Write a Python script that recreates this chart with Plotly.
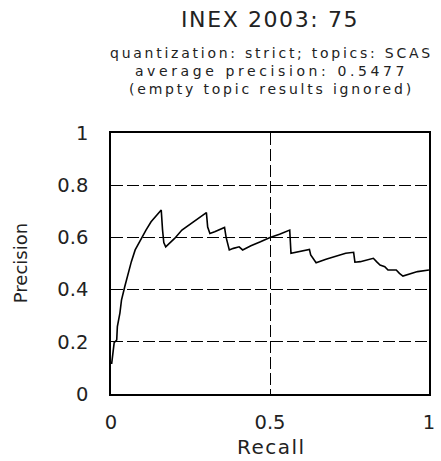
import plotly.graph_objects as go

recall = [0.002, 0.004, 0.010, 0.018, 0.020, 0.028, 0.033, 0.043, 0.053, 0.064, 0.076,
          0.095, 0.110, 0.126, 0.141, 0.158, 0.162, 0.166, 0.172, 0.200, 0.223, 0.260,
          0.300, 0.304, 0.311, 0.326, 0.357, 0.362, 0.372, 0.385, 0.403, 0.414, 0.440,
          0.470, 0.500, 0.530, 0.562, 0.566, 0.583, 0.624, 0.628, 0.645, 0.676, 0.738,
          0.763, 0.767, 0.784, 0.825, 0.835, 0.846, 0.861, 0.871, 0.897, 0.907, 0.918,
          0.938, 0.964, 1.000]
precision = [0.115, 0.14, 0.197, 0.207, 0.258, 0.31, 0.36, 0.41, 0.462, 0.507, 0.552,
             0.597, 0.628, 0.66, 0.68, 0.705, 0.63, 0.58, 0.564, 0.596, 0.628, 0.66,
             0.695, 0.64, 0.615, 0.622, 0.638, 0.60, 0.552, 0.558, 0.564, 0.552, 0.568,
             0.583, 0.60, 0.612, 0.628, 0.539, 0.543, 0.554, 0.533, 0.503, 0.516, 0.539,
             0.543, 0.505, 0.507, 0.52, 0.507, 0.494, 0.488, 0.475, 0.475, 0.462, 0.452,
             0.46, 0.469, 0.475]

title_text = "INEX 2003: 75"
subtitle_lines = ["quantization: strict; topics: SCAS",
                  "average precision: 0.5477",
                  "(empty topic results ignored)"]
x_ticks = [0, 0.5, 1]
x_tick_labels = ["0", "0.5", "1"]
y_ticks = [0, 0.2, 0.4, 0.6, 0.8, 1]
y_tick_labels = ["0", "0.2", "0.4", "0.6", "0.8", "1"]

TXT = "#222222"
FONT = "DejaVu Sans"

fig = go.Figure()
fig.add_trace(go.Scatter(x=recall, y=precision, mode="lines",
                         line=dict(color="black", width=1.6), showlegend=False,
                         hoverinfo="skip"))

PT, PB = 133, 394
PH = PB - PT

def py(pix):
    return (PB - pix) / PH

annotations = [
    dict(text='<span style="letter-spacing:1.6px">%s</span>' % title_text,
         x=0.5, y=py(20), xref="paper", yref="paper", xanchor="center", yanchor="middle",
         showarrow=False, font=dict(family=FONT, size=22, color=TXT)),
]
sub_ls = [2.75, 3.6, 2.8]
sub_text = "<br>".join('<span style="letter-spacing:%spx">%s</span>' % (ls, line)
                       for line, ls in zip(subtitle_lines, sub_ls))
annotations.append(dict(
    text=sub_text, align="center",
    x=0.506, y=py(71), xref="paper", yref="paper", xanchor="center", yanchor="middle",
    showarrow=False, font=dict(family=FONT, size=14, color=TXT)))
annotations.append(dict(
    text='<span style="letter-spacing:1.5px">Recall</span>',
    x=0.505, y=py(447), xref="paper", yref="paper", xanchor="center", yanchor="middle",
    showarrow=False, font=dict(family=FONT, size=20, color=TXT)))
annotations.append(dict(
    text="Precision", textangle=-90,
    x=(19 - 111) / 324, y=0.5, xref="paper", yref="paper", xanchor="center", yanchor="middle",
    showarrow=False, font=dict(family=FONT, size=18, color=TXT)))

axis_common = dict(range=[0, 1], showline=True, mirror=True, linecolor="black", linewidth=1.5,
                   showgrid=True, gridcolor="black", gridwidth=1, griddash="12px,4px",
                   zeroline=False, ticks="", tickfont=dict(family=FONT, size=19.5, color=TXT),
                   fixedrange=True)

fig.update_layout(
    width=441, height=461,
    margin=dict(l=111, r=6, t=PT, b=461 - PB, pad=0),
    paper_bgcolor="white", plot_bgcolor="white",
    xaxis=dict(**axis_common, tickvals=x_ticks, ticktext=x_tick_labels, ticklabelstandoff=10),
    yaxis=dict(**axis_common, tickvals=y_ticks, ticktext=y_tick_labels, ticklabelstandoff=17),
    annotations=annotations,
)

fig.write_html("out.html")
